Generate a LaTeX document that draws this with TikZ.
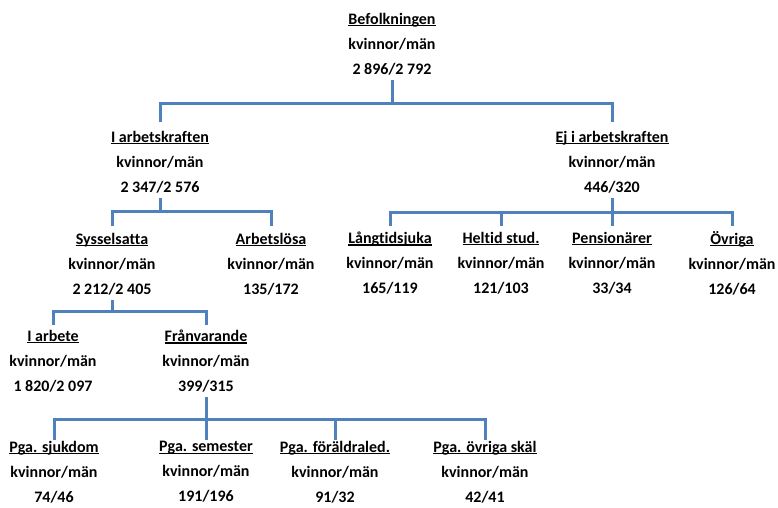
\documentclass[tikz,border=0pt]{standalone}
\usepackage{fontspec}
\setmainfont[Ligatures=NoCommon]{Carlito}
\usetikzlibrary{calc}
\definecolor{linkblue}{HTML}{4F81BD}
\newcommand\ulx[1]{\setbox0\hbox{#1}\rlap{\rule[-2.2pt]{\wd0}{1.2pt}}\box0}
\newcommand\blk[2]{\ulx{#1}\\kvinnor/m\"an\\#2}
\begin{document}
\begin{tikzpicture}[x=1pt,y=-1pt,
  box/.style={align=center,inner sep=0pt,font=\bfseries\fontsize{16}{25}\selectfont},
  conn/.style={draw=linkblue,line width=3pt}]
\useasboundingbox (0,0) rectangle (778,507);
\node[box] (bef)  at (392,44)  {\blk{Befolkningen}{2 896/2 792}};
\node[box] (iak)  at (160,162) {\blk{I arbetskraften}{2 347/2 576}};
\node[box] (ejak) at (612,162) {\blk{Ej i arbetskraften}{446/320}};
\node[box] (syss) at (112,264) {\blk{Sysselsatta}{2 212/2 405}};
\node[box] (arbl) at (271,264) {\blk{Arbetslösa}{135/172}};
\node[box] (lang) at (390,263) {\blk{Långtidsjuka}{165/119}};
\node[box] (helt) at (501,263) {\blk{Heltid stud.}{121/103}};
\node[box] (pens) at (612,263) {\blk{Pensionärer}{33/34}};
\node[box] (ovr)  at (732,263) {\blk{Övriga}{126/64}};
\node[box] (iarb) at (53,361)  {\blk{I arbete}{1 820/2 097}};
\node[box] (fran) at (206,361) {\blk{Frånvarande}{399/315}};
\node[box] (sjuk) at (54,472)  {\blk{Pga. sjukdom}{74/46}};
\node[box] (sem)  at (206,472) {\blk{Pga. semester}{191/196}};
\node[box] (fora) at (335,472) {\blk{Pga. föräldraled.}{91/32}};
\node[box] (ovs)  at (485,472) {\blk{Pga. övriga skäl}{42/41}};
% connectors
\draw[conn] ($(bef)+(0,36)$) -- ($(bef)+(0,59)$);
\foreach \c in {iak,ejak}
  \draw[conn] ($(\c)+(0,-40)$) |- ($(bef)+(0,59)$);
\draw[conn] ($(iak)+(0,36)$) -- ($(iak)+(0,49)$);
\foreach \c in {syss,arbl}
  \draw[conn] ($(\c)+(0,-38)$) |- ($(iak)+(0,49)$);
\draw[conn] ($(ejak)+(0,36)$) -- ($(ejak)+(0,50)$);
\foreach \c in {lang,helt,pens,ovr}
  \draw[conn] ($(\c)+(0,-37)$) |- ($(ejak)+(0,50)$);
\draw[conn] ($(syss)+(0,36)$) -- ($(syss)+(0,47)$);
\foreach \c in {iarb,fran}
  \draw[conn] ($(\c)+(0,-36)$) |- ($(syss)+(0,47)$);
\draw[conn] ($(fran)+(0,36)$) -- ($(fran)+(0,58)$);
\foreach \c in {sjuk,sem,fora,ovs}
  \draw[conn] ($(\c)+(0,-32)$) |- ($(fran)+(0,58)$);
\end{tikzpicture}
\end{document}
